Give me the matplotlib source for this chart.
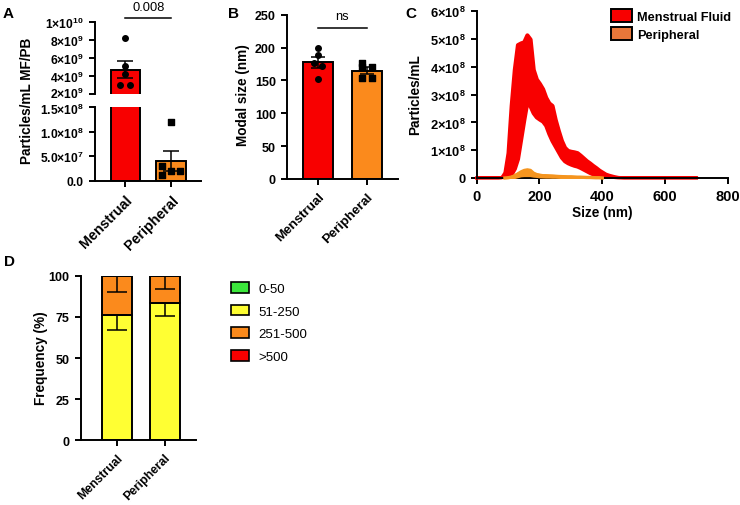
import numpy as np
import matplotlib
matplotlib.use('Agg')
import matplotlib.pyplot as plt
from matplotlib.patches import Patch
import matplotlib.transforms as mtransforms

# ---- data ----
groups = ['Menstrual', 'Peripheral']

# A: particle concentration (particles/mL)
conc_mean = [4.7e9, 4.1e7]
conc_sem = [0.96e9, 2.0e7]
conc_mf_pts = [8.2e9, 5.1e9, 4.2e9, 3.0e9, 3.0e9]
conc_pb_pts = [1.2e8, 3.1e7, 2.1e7, 2.1e7, 1.2e7]
conc_p = '0.008'

# B: modal size (nm)
modal_mean = [177.8, 164.6]
modal_sem = [8.2, 5.3]
modal_mf_pts = [200, 188, 177, 172, 152]
modal_pb_pts = [177, 170, 170, 153, 153]
modal_p = 'ns'

# C: size distribution, units of 1e8 particles/mL
mf_size = np.arange(0, 710, 10)
mf_mean = [0, 0, 0, 0, 0, 0, 0, 0, 0.01, 0.1,
           0.48, 1.38, 2.13, 2.75, 3.13, 3.5, 3.95, 3.8, 3.13, 2.88,
           2.76, 2.63, 2.4, 2.15, 1.98, 1.63, 1.33, 1.05, 0.86, 0.77,
           0.73, 0.7, 0.67, 0.6, 0.52, 0.44, 0.37, 0.3, 0.24, 0.18,
           0.13, 0.09, 0.06, 0.04, 0.02, 0.01, 0.005] + [0] * 24
mf_err = [0, 0, 0, 0, 0, 0, 0, 0, 0.01, 0.1,
          0.43, 1.23, 1.78, 2.05, 1.73, 1.4, 1.2, 1.2, 0.78, 0.68,
          0.64, 0.58, 0.5, 0.55, 0.63, 0.48, 0.38, 0.3, 0.24, 0.22,
          0.23, 0.24, 0.24, 0.22, 0.2, 0.18, 0.17, 0.15, 0.13, 0.1,
          0.08, 0.05, 0.04, 0.03, 0.02, 0.01, 0.005] + [0] * 24
pb_size = np.arange(90, 410, 10)
pb_mean = [0, 0.01, 0.03, 0.07, 0.12, 0.17, 0.2, 0.21, 0.2, 0.14,
           0.11, 0.09, 0.08, 0.075, 0.07, 0.065, 0.06, 0.055, 0.05, 0.045,
           0.04, 0.04, 0.035, 0.03, 0.03, 0.025, 0.02, 0.02, 0.015, 0.01,
           0.01, 0]
pb_err = [0, 0.01, 0.02, 0.04, 0.06, 0.08, 0.1, 0.11, 0.1, 0.06,
          0.04, 0.035, 0.03, 0.03, 0.025, 0.025, 0.02, 0.02, 0.02, 0.015,
          0.015, 0.015, 0.01, 0.01, 0.01, 0.01, 0.01, 0.01, 0.005, 0.005,
          0.005, 0]

# D: size-bin frequency (%)
bins = ['0-50', '51-250', '251-500', '>500']
freq = {'0-50': [0, 0], '51-250': [76.3, 83.6], '251-500': [23.7, 16.4], '>500': [0, 0]}
freq_err = {'51-250': [9.3, 8.0], '251-500': [9.7, 8.1]}

# ---- style ----
RED = '#F80000'
ORANGE = '#FB8A1C'
C_ORANGE = '#F5951F'
LEG_ORANGE = '#E8773A'
bin_colors = ['#3CE83C', '#FFFF33', '#FB8A1C', '#F80000']

plt.rcParams['font.family'] = ['Liberation Sans', 'DejaVu Sans']
plt.rcParams['font.weight'] = 'bold'
plt.rcParams['mathtext.fontset'] = 'custom'
plt.rcParams['mathtext.rm'] = 'Liberation Sans:bold'
plt.rcParams['mathtext.it'] = 'Liberation Sans:bold'
plt.rcParams['mathtext.bf'] = 'Liberation Sans:bold'
plt.rcParams['axes.linewidth'] = 1.4
plt.rcParams['xtick.major.width'] = 1.4
plt.rcParams['ytick.major.width'] = 1.4
plt.rcParams['xtick.major.size'] = 4.5
plt.rcParams['ytick.major.size'] = 4.5
plt.rcParams['ytick.labelsize'] = 9.0

fig = plt.figure(figsize=(7.4, 5.06), dpi=100)
W, H = 740.0, 506.0


def ax_px(l, t, r, b):
    return fig.add_axes([l / W, 1 - b / H, (r - l) / W, (b - t) / H])


def clean(ax):
    ax.spines['top'].set_visible(False)
    ax.spines['right'].set_visible(False)


def rot_labels(ax, size):
    ax.set_xticks(range(len(groups)))
    ax.set_xticklabels(groups, rotation=45, ha='right', rotation_mode='anchor', fontsize=size)


x = np.arange(len(groups))
bw = 0.64
jit5 = [0, 0, 0, -0.11, 0.11]
jitB_mf = [0, 0, -0.08, 0.08, 0]
jitA_pb = [0, -0.2, 0, 0.2, -0.2]
jitB_pb = [-0.1, 0.1, -0.1, -0.1, 0.1]

# ---- A (broken axis) ----
axA1 = ax_px(95, 23, 201, 95)
axA2 = ax_px(95, 108, 201, 182)
for a in (axA1, axA2):
    clean(a)
    a.bar(x, conc_mean, width=bw, color=[RED, ORANGE], edgecolor='black', linewidth=1.4, zorder=1)
    a.set_xlim(-0.66, 1.65)
    a.tick_params(axis='y', labelsize=8.7)
axA1.spines['bottom'].set_visible(False)
axA1.tick_params(axis='x', bottom=False, labelbottom=False)
axA1.set_ylim(2e9, 1e10)
axA1.set_yticks([2e9, 4e9, 6e9, 8e9, 1e10],
                ['2×10$^{9}$', '4×10$^{9}$', '6×10$^{9}$', '8×10$^{9}$', '1×10$^{10}$'])
axA2.set_ylim(0, 1.5e8)
axA2.set_yticks([0, 5e7, 1e8, 1.5e8],
                ['0.0', '5.0×10$^{7}$', '1.0×10$^{8}$', '1.5×10$^{8}$'])
rot_labels(axA2, 10.3)
# nudge the two labels that meet at the axis break apart a little
lab_lo = axA1.get_yticklabels()[0]
lab_lo.set_transform(lab_lo.get_transform() + mtransforms.ScaledTranslation(0, 1.5 / 72, fig.dpi_scale_trans))
lab_hi = axA2.get_yticklabels()[-1]
lab_hi.set_transform(lab_hi.get_transform() + mtransforms.ScaledTranslation(0, -1.0 / 72, fig.dpi_scale_trans))
axA1.errorbar(x[0], conc_mean[0], yerr=conc_sem[0], color='black', capsize=5.5, lw=1.1, capthick=1.1, zorder=3)
axA1.scatter(x[0] + np.array(jit5), conc_mf_pts, s=16, color='black', marker='o', zorder=4)
axA2.errorbar(x[1], conc_mean[1], yerr=conc_sem[1], color='black', capsize=5.5, lw=1.1, capthick=1.1, zorder=3)
axA2.scatter(x[1] + np.array(jitA_pb), conc_pb_pts, s=14, color='black', marker='s', zorder=4)
trA = mtransforms.blended_transform_factory(axA1.transData, axA1.transAxes)
axA1.plot([0, 1], [1.05, 1.05], color='black', lw=1.1, transform=trA, clip_on=False)
axA1.text(0.5, 1.13, conc_p, ha='center', va='bottom', fontsize=9.3, fontweight='normal', transform=trA)
fig.text(27 / W, 1 - 101 / H, 'Particles/mL MF/PB', rotation=90, ha='center', va='center', fontsize=9.8)

# ---- B ----
axB = ax_px(287, 15.7, 397.7, 180)
clean(axB)
axB.bar(x, modal_mean, width=0.61, color=[RED, ORANGE], edgecolor='black', linewidth=1.4, zorder=1)
axB.errorbar(x, modal_mean, yerr=modal_sem, fmt='none', ecolor='black', capsize=5.2, lw=1.1, capthick=1.1, zorder=3)
axB.scatter(x[0] + np.array(jitB_mf), modal_mf_pts, s=16, color='black', marker='o', zorder=4)
axB.scatter(x[1] + np.array(jitB_pb), modal_pb_pts, s=14, color='black', marker='s', zorder=4)
axB.set_xlim(-0.63, 1.63)
axB.set_ylim(0, 250)
axB.set_yticks([0, 50, 100, 150, 200, 250])
rot_labels(axB, 9.6)
trB = mtransforms.blended_transform_factory(axB.transData, axB.transAxes)
axB.plot([0, 1], [0.919, 0.919], color='black', lw=1.1, transform=trB, clip_on=False)
axB.text(0.5, 0.955, modal_p, ha='center', va='bottom', fontsize=9.3, fontweight='normal', transform=trB)
fig.text(243 / W, 1 - 95 / H, 'Modal size (nm)', rotation=90, ha='center', va='center', fontsize=9.8)

# ---- C ----
axC = ax_px(476.7, 12.3, 727.7, 179)
clean(axC)
mm = np.array(mf_mean) * 1e8
me = np.array(mf_err) * 1e8
axC.fill_between(mf_size, mm - me, mm + me, color=RED, lw=3.0, edgecolor=RED, zorder=2)
axC.plot(mf_size, mm, color=RED, lw=2.4, zorder=2, clip_on=False)
pm = np.array(pb_mean) * 1e8
pe = np.array(pb_err) * 1e8
axC.fill_between(pb_size, pm - pe, pm + pe, color=C_ORANGE, lw=2.0, edgecolor=C_ORANGE, zorder=3)
axC.plot(pb_size, pm, color=C_ORANGE, lw=2.4, zorder=3, clip_on=False)
axC.set_xlim(0, 800)
axC.set_ylim(0, 6e8)
axC.set_xticks([0, 200, 400, 600, 800])
axC.set_yticks([0, 1e8, 2e8, 3e8, 4e8, 5e8, 6e8],
               ['0', '1×10$^{8}$', '2×10$^{8}$', '3×10$^{8}$', '4×10$^{8}$', '5×10$^{8}$', '6×10$^{8}$'])
axC.tick_params(axis='x', labelsize=10.5)
axC.tick_params(axis='y', labelsize=9.3)
fig.text(415.5 / W, 1 - 95 / H, 'Particles/mL', rotation=90, ha='center', va='center', fontsize=9.8)
fig.text(602 / W, 1 - 213 / H, 'Size (nm)', ha='center', va='center', fontsize=9.8)
handlesC = [Patch(facecolor=RED, edgecolor='black', lw=1.4, label='Menstrual Fluid'),
            Patch(facecolor=LEG_ORANGE, edgecolor='black', lw=1.4, label='Peripheral')]
axC.legend(handles=handlesC, loc='upper left', bbox_to_anchor=(0.515, 1.045), frameon=False,
           fontsize=9.2, handlelength=1.6, handleheight=1.2, handletextpad=0.4, labelspacing=0.35,
           borderaxespad=0)

# ---- D ----
axD = ax_px(80.7, 276.7, 196, 441.3)
clean(axD)
bottom = np.zeros(len(groups))
for b, c in zip(bins, bin_colors):
    vals = np.array(freq[b])
    axD.bar(x, vals, bottom=bottom, width=0.63, color=c, edgecolor='black', linewidth=1.4, zorder=1)
    if b in freq_err:
        top = bottom + vals
        axD.errorbar(x, top, yerr=[freq_err[b], [0, 0]], fmt='none', ecolor='black',
                     capsize=7, lw=1.1, capthick=1.1, zorder=3)
    bottom = bottom + vals
axD.set_xlim(-0.76, 1.66)
axD.set_ylim(0, 100)
axD.set_yticks([0, 25, 50, 75, 100])
rot_labels(axD, 8.8)
fig.text(41.5 / W, 1 - 358 / H, 'Frequency (%)', rotation=90, ha='center', va='center', fontsize=9.8)
handlesD = [Patch(facecolor=c, edgecolor='black', lw=1.2, label=b) for b, c in zip(bins, bin_colors)]
legD = axD.legend(handles=handlesD, loc='upper left', bbox_to_anchor=(231 / W, 1 - 283 / H),
                  bbox_transform=fig.transFigure, frameon=False, prop={'size': 9.5, 'weight': 'normal'},
                  handlelength=1.4, handleheight=0.85, handletextpad=0.7, labelspacing=0.75,
                  borderaxespad=0, borderpad=0)

# ---- panel letters ----
for lab, px, py in [('A', 3, 14.5), ('B', 228, 14), ('C', 405, 14), ('D', 4, 262)]:
    fig.text(px / W, 1 - py / H, lab, ha='left', va='center', fontsize=11, fontweight='bold')

fig.savefig('out.png', dpi=100)
